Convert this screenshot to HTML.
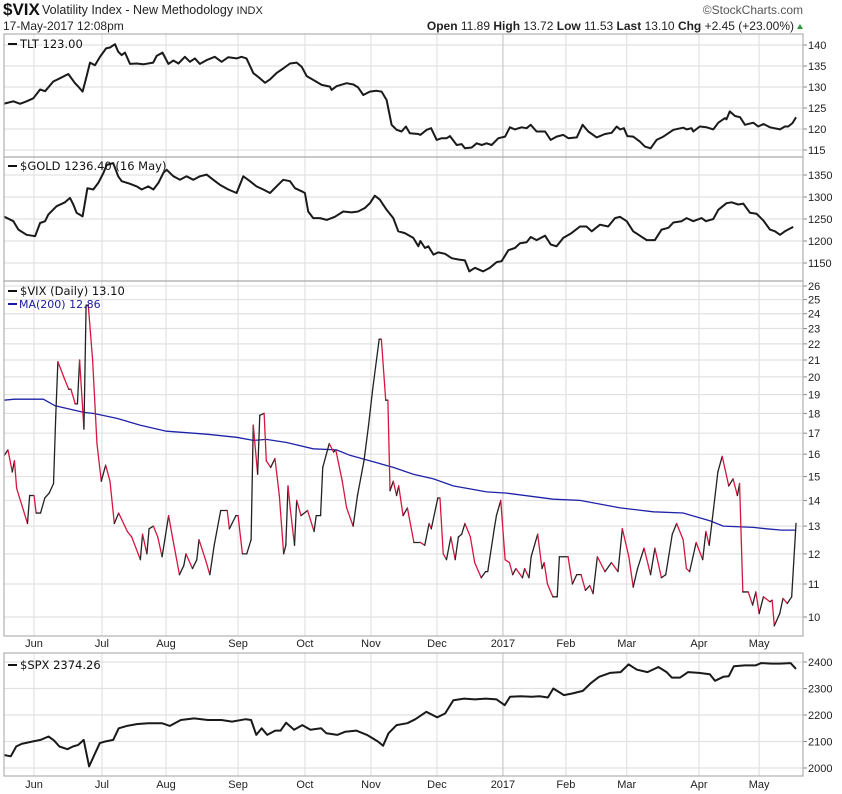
<!DOCTYPE html>
<html><head><meta charset="utf-8">
<style>
html,body{margin:0;padding:0;background:#fff;}
body{width:842px;height:794px;overflow:hidden;position:relative;font-family:"Liberation Sans",sans-serif;}
svg{position:absolute;left:0;top:0;}
.ax{font:11px "Liberation Sans",sans-serif;fill:#222;}
.lg{font:11.5px "DejaVu Sans",sans-serif;fill:#111;}
.mo{font:11px "Liberation Sans",sans-serif;fill:#222;}
</style></head>
<body>
<svg id="chart" width="842" height="794" viewBox="0 0 842 794">
  <g>
    <text x="3" y="15" style="font:bold 17px 'Liberation Sans Narrow','Liberation Sans',sans-serif" fill="#111">$VIX</text>
    <text x="42" y="14" style="font:12.5px 'Liberation Sans Narrow','Liberation Sans',sans-serif" fill="#222">Volatility Index - New Methodology <tspan font-size="11">INDX</tspan></text>
    <text x="803" y="14" text-anchor="end" style="font:12px 'Liberation Sans Narrow','Liberation Sans',sans-serif" fill="#555">©StockCharts.com</text>
    <text x="3" y="30" style="font:12px 'Liberation Sans Narrow','Liberation Sans',sans-serif" fill="#222">17-May-2017 12:08pm</text>
    <text x="794" y="30" text-anchor="end" style="font:12px 'Liberation Sans Narrow','Liberation Sans',sans-serif" fill="#222"><tspan font-weight="bold">Open</tspan> 11.89 <tspan font-weight="bold">High</tspan> 13.72 <tspan font-weight="bold">Low</tspan> 11.53 <tspan font-weight="bold">Last</tspan> 13.10 <tspan font-weight="bold">Chg</tspan> +2.45 (+23.00%)</text>
    <path d="M797 29 L803 29 L800 24 Z" fill="#2a9a3a"/>
  </g>
  <g id="grid"></g>
  <g id="series"></g>
  <g id="axes"></g>
  <g>
    <rect x="8" y="43" width="9" height="2" fill="#111"/>
    <text class="lg" x="20" y="48">TLT 123.00</text>
    <rect x="8" y="165" width="9" height="2" fill="#111"/>
    <text class="lg" x="20" y="170">$GOLD 1236.40 (16 May)</text>
    <rect x="8" y="290" width="9" height="2" fill="#111"/>
    <text class="lg" x="20" y="295">$VIX (Daily) 13.10</text>
    <rect x="8" y="303" width="9" height="2" fill="#1a1aa0"/>
    <text class="lg" x="19" y="308" fill="#1a1aa0" style="fill:#1a1aa0;font-size:11px">MA(200) 12.86</text>
    <rect x="8" y="664" width="9" height="2" fill="#111"/>
    <text class="lg" x="20" y="669">$SPX 2374.26</text>
  </g>
</svg>
<script>
// ---- data (days since 2016-06-01) ----
const monthLabels = ["Jun","Jul","Aug","Sep","Oct","Nov","Dec","2017","Feb","Mar","Apr","May"];
const monthDays = [0,31.3,60.8,94,124.8,155.2,185.6,216,245,273,306.3,334];

const tltTicks = [115,120,125,130,135,140];
const goldTicks = [1150,1200,1250,1300,1350];
const vixTicks = [10,11,12,13,14,15,16,17,18,19,20,21,22,23,24,25,26];
const spxTicks = [2000,2100,2200,2300,2400];

const tltDays = [-14,-9.5,-6.4,-3.4,-0.3,2.8,5.1,8.9,12,15.8,18.9,20.4,22.4,24,25.8,28.1,30.4,33.2,35,37.3,38.8,40.4,41.9,44.2,47.3,50.3,54.9,56.5,59.2,61.9,64.2,66.5,69.5,71.8,74.1,76.4,79.5,83.3,86.4,89.5,93.3,95.6,97.9,101,104,106.4,108.7,111.7,114.8,117.9,121,123.3,125.6,128.6,132.5,136.3,137.1,139.4,144,147.1,149.3,151.7,154.7,157.8,160.1,162.4,164.7,167,169.3,171.3,173.1,177,178,180.9,182.9,185.5,187.8,190.1,191.6,194.7,197,198.5,201.6,203.9,206.2,208.5,210.8,213.9,217,219.2,221.5,224.6,226.9,228.8,231.5,235.4,238,240.7,243.8,246.1,250,252.7,255.3,259.2,263,266.1,268.4,269.9,271.7,273.3,276,279.1,281.4,284,286.8,289.9,294.5,299.1,300.6,302.9,303.7,306.7,309.8,312.9,315.2,318.3,319,320.5,322.9,325.2,327.5,331.3,333.6,336,339,343.6,345.9,347.4,349.4,351];
const tltValues = [126.0,126.6,126.0,126.6,127.3,129.4,129.0,131.3,132.1,133.1,130.9,130.1,128.9,132.1,135.8,135.2,137.2,139.2,139.4,140.2,138.4,137.6,138.2,135.5,135.6,135.4,135.8,137.4,138.2,135.5,136.3,135.6,137.2,136.0,136.8,135.5,136.4,137.2,136.0,137.1,136.8,137.2,136.8,133.3,132.1,131.0,131.8,133.3,134.4,135.6,135.8,134.8,132.6,131.7,130.5,130.1,129.3,130.2,130.9,130.6,129.9,128.1,128.9,129.1,128.9,126.9,121.0,119.8,119.4,120.6,119.0,118.8,118.6,119.8,120.2,117.4,117.8,117.8,118.3,116.2,116.4,115.4,115.6,116.6,116.2,116.6,116.2,117.8,118.2,120.4,119.9,120.4,120.2,121.0,119.4,119.4,117.4,118.2,118.6,117.8,118.0,121.0,119.4,118.0,118.8,119.1,120.6,119.9,120.2,118.3,118.2,117.0,115.8,115.4,117.4,118.2,119.8,120.3,119.9,120.2,119.4,120.6,120.4,119.9,121.5,122.6,122.3,124.2,123.1,122.8,121.0,121.5,120.6,121.2,120.4,119.9,120.6,120.6,121.4,122.8];

const goldDays = [-14,-9.5,-7.2,-3.4,0.5,2.8,5.1,6.6,10.4,14.3,16.6,18.1,19.6,22.4,24.6,27.3,29.6,32,33.5,36.5,38.8,40.4,44.2,47.3,49.6,52.6,55,57.3,59.6,61.1,64.2,67.2,70.3,73.4,76.4,79.5,82.6,85.6,89.5,93.3,96.4,99.5,102.5,105.6,108.7,111.7,114.8,117.9,120.2,123.3,124.8,126.3,128.6,131.7,134.8,138.6,142.4,146.3,149.3,152.4,154.7,157,159.3,162.4,165.5,167.8,170.8,174.7,177,178,180.1,181.6,184,186.2,189.3,192.4,195.5,198.5,200.5,203.1,206.9,210,213.1,215.4,218.5,221.5,223.9,226.9,228.8,231.5,235.4,238,240.7,243.8,247.6,251.5,254.5,256.9,260.7,264.5,267.6,269.9,273,276,279.1,282.2,286,289.1,292.2,294.5,298.3,300.6,303.7,307.5,309.5,312.9,315.2,319,321.3,324.4,326.7,329.8,332.8,335.9,339,341.3,343.6,345.9,349.7];
const goldValues = [1256,1245,1226,1214,1211,1241,1245,1260,1279,1288,1298,1283,1264,1256,1320,1317,1332,1355,1373,1377,1347,1336,1330,1324,1317,1324,1317,1332,1355,1362,1347,1339,1347,1339,1347,1351,1339,1328,1317,1309,1347,1336,1324,1317,1309,1324,1339,1336,1320,1313,1309,1267,1252,1252,1248,1255,1267,1265,1267,1275,1286,1303,1294,1271,1252,1222,1218,1207,1188,1200,1184,1188,1169,1174,1171,1161,1158,1156,1131,1139,1131,1139,1152,1154,1179,1184,1195,1197,1209,1202,1212,1192,1188,1207,1218,1233,1233,1222,1237,1233,1252,1255,1245,1222,1212,1202,1202,1226,1230,1242,1245,1252,1245,1252,1245,1250,1271,1286,1288,1283,1285,1264,1262,1247,1226,1222,1214,1222,1232];

const vixDays = [-14,-12,-10,-9,-8,-3,-2,0,1,3,5,7,9,10,11,14,16,17,19,20,21,23,24,25,27,29,31,33,35,37,39,43,45,49,50,52,53,55,57,59,62,64,67,69,70,73,75,76,79,81,83,86,89,90,93,94,96,98,100,101,103,104,106,107,109,111,113,115,116,117,118,120,121,123,126,129,130,132,133,136,138,139,142,144,147,149,152,154,156,159,160,162,163,164,165.5,167,168,170,172,175,178,180,182,183,186,187,188.5,190,192,194,195.5,197,198.5,201,203,206,208,209,212,213,215,217,219,220.5,222,225,226,228,229,232,234,235,236.5,239,241,242,244,246,248,250,252,254,256,257.5,259.5,263,266,267,269,271,274,276,278,281,284,286,289,291,294,296,299,300.5,302,305,308,309.5,311,312.5,315,317,320,322,324,325,326.5,329,331,332.5,334,336,339,340,341,343.5,345,347,349,351];
const vixValues = [15.9,16.2,15.2,15.7,14.5,13.1,14.2,14.2,13.5,13.5,14.1,14.3,14.7,17.8,20.9,19.9,19.3,19.3,18.5,18.5,21.0,17.2,24.6,24.6,21.0,16.5,14.8,15.5,14.8,13.1,13.5,12.8,12.6,11.8,12.7,12.0,12.9,13.0,12.6,11.9,13.4,12.5,11.3,11.6,12.0,11.5,11.8,12.5,11.8,11.3,12.3,13.6,13.6,12.9,13.4,13.4,12.0,12.0,12.5,17.4,15.1,17.9,18.0,15.7,15.4,15.8,14.2,12.0,12.3,14.6,13.7,12.3,14.0,13.4,13.6,12.8,13.4,13.4,15.4,16.5,16.1,16.2,14.8,13.7,13.0,14.2,15.7,17.3,19.3,22.3,22.3,18.7,18.7,14.4,14.8,14.2,14.6,13.4,13.7,12.4,12.4,12.3,13.1,12.9,14.1,14.1,12.0,11.8,12.6,11.8,12.6,12.7,13.1,12.6,11.7,11.2,11.4,11.4,12.9,13.4,14.0,11.8,11.7,11.3,11.5,11.2,11.5,11.2,11.9,12.7,11.5,11.7,11.0,10.6,10.6,11.9,11.9,11.9,11.0,11.3,11.3,10.8,10.95,10.7,11.9,11.4,11.7,11.6,11.4,12.9,11.9,10.9,11.5,12.2,11.3,12.2,11.2,11.3,12.7,13.1,12.5,11.5,11.4,12.4,11.8,12.8,12.3,13.3,15.2,15.9,14.6,14.9,14.2,14.7,10.75,10.75,10.35,10.75,10.1,10.6,10.45,10.5,9.75,10.1,10.55,10.4,10.6,13.1];

const maDays = [-14,-9,4.3,9.7,23,27.3,38,48.8,61,79.5,93.3,101,107,116.4,128.6,139.4,145.5,156.3,165.5,174.7,184,193.1,208.5,217.7,239.2,251.5,270,285.3,299,311.3,317.5,331.3,337.4,344.3,351];
const maValues = [18.7,18.75,18.75,18.4,18.05,18.0,17.75,17.4,17.1,16.95,16.8,16.65,16.7,16.55,16.25,16.2,15.95,15.65,15.4,15.1,14.9,14.6,14.35,14.3,14.05,14.0,13.7,13.55,13.5,13.2,13.0,12.95,12.9,12.85,12.85];

const spxDays = [-14.4,-10.7,-8.2,-5.7,-0.7,3,6.7,9.2,11.7,15.4,17.9,20.4,22.9,25.4,27.8,30.3,32.8,36.5,39,42.8,47.7,52.7,58.9,62.6,67.6,73.8,80,86.3,91.2,97.5,100,102.4,104.9,107.4,111.1,113.6,116.1,119.8,123.6,127.3,132.3,134.7,139.7,143.4,148.4,153.4,158.4,160.8,163.3,167,172,175.7,180.7,185.7,189.4,193.2,198.1,203.1,208.1,213.1,216.8,219.3,224.2,229.2,232.9,236.7,239.2,244.1,247.9,252.8,256.6,260.3,265.3,270.2,273.9,277.7,282.6,287.6,291.4,293.8,297.6,301.3,306.3,311.3,313.7,317.5,320,322.4,327.4,332.4,334.9,339.8,343.6,348.5,351];
const spxValues = [2050,2044,2081,2091,2100,2106,2119,2104,2081,2071,2081,2087,2106,2006,2050,2094,2100,2106,2150,2159,2166,2169,2169,2159,2181,2187,2181,2181,2175,2184,2181,2125,2150,2125,2141,2141,2171,2144,2162,2144,2150,2131,2125,2137,2141,2125,2100,2084,2131,2162,2169,2184,2212,2191,2206,2256,2262,2259,2262,2259,2237,2269,2271,2269,2271,2266,2300,2275,2281,2291,2321,2344,2359,2362,2391,2371,2362,2381,2362,2341,2341,2362,2359,2354,2329,2344,2346,2384,2387,2387,2396,2394,2394,2396,2374];

// ---- layout ----
const L = 4, R = 803;
const panels = {
  tlt:  {top:34,  bot:157},
  gold: {top:157, bot:281},
  vix:  {top:281, bot:636},
  spx:  {top:653, bot:776}
};
const NS = "http://www.w3.org/2000/svg";
function xS(d){ return 34 + d*2.171; }
function yTlt(v){ return 45 + (140 - v)*4.2; }
function yGold(v){ return 175 + (1350 - v)*0.44; }
function yVix(v){ return 617 - Math.log(v/10)/Math.log(2.6)*331; }
function ySpx(v){ return 662 + (2400 - v)*0.265; }
function mk(tag, attrs, parent){
  const e = document.createElementNS(NS, tag);
  for (const k in attrs) e.setAttribute(k, attrs[k]);
  parent.appendChild(e);
  return e;
}
const svg = document.getElementById('chart');
const grid = document.getElementById('grid');
const series = document.getElementById('series');
const axes = document.getElementById('axes');
const defs = mk('defs', {}, svg);
for (const k in panels){
  const cp = mk('clipPath', {id:'clip-'+k}, defs);
  mk('rect', {x:L, y:panels[k].top+1, width:R-L, height:panels[k].bot-panels[k].top-1}, cp);
}

// horizontal gridlines + tick labels
function hgrid(ticks, yf, p, name){
  ticks.forEach(t=>{
    const y = yf(t);
    const ln = mk('line', {x1:L, x2:R, y1:y, y2:y, stroke:'#e2e2e2', 'stroke-width':1.2}, grid);
    
    
    const tk = mk('line', {x1:R, x2:R+4, y1:y, y2:y, stroke:'#888', 'stroke-width':1}, axes);
    
    
    const tx = mk('text', {x:R+5, y:y+4, class:'ax'}, axes);
    tx.textContent = t;
    
    
  });
}
hgrid(tltTicks, yTlt, panels.tlt, 'tlt');
hgrid(goldTicks, yGold, panels.gold, 'gold');
hgrid(vixTicks, yVix, panels.vix, 'vix');
hgrid(spxTicks, ySpx, panels.spx, 'spx');

// vertical month gridlines and labels
monthDays.forEach((d,i)=>{
  const x = xS(d);
  const is17 = monthLabels[i]==='2017';
  [[34,636],[653,776]].forEach(r=>{
    const ln = mk('line', {x1:x, x2:x, y1:r[0], y2:r[1], stroke: is17?'#c8c8c8':'#e2e2e2', 'stroke-width':1.2}, grid);
    
    
  });
  [647, 788].forEach(y=>{
    const t = mk('text', {x:x, y:y, 'text-anchor':'middle', class:'mo', 'font-weight': is17?'bold':'normal', 'font-size': is17?'12':'11'}, axes);
    t.textContent = monthLabels[i];
    
    
  });
});

// panel borders
for (const k in panels){
  const p = panels[k];
  const r = mk('rect', {x:L, y:p.top, width:R-L, height:p.bot-p.top, fill:'none', stroke:'#b0b0b0', 'stroke-width':1.2}, axes);
  
  
}

// line series
function linePath(days, vals, yf){
  return days.map((d,i)=>(i?'L':'M')+xS(d).toFixed(1)+' '+yf(vals[i]).toFixed(1)).join(' ');
}
const tl = mk('path', {d:linePath(tltDays, tltValues, yTlt), fill:'none', stroke:'#1a1a1a', 'stroke-width':2, 'stroke-linejoin':'round', 'clip-path':'url(#clip-tlt)'}, series);


const gl = mk('path', {d:linePath(goldDays, goldValues, yGold), fill:'none', stroke:'#1a1a1a', 'stroke-width':2, 'stroke-linejoin':'round', 'clip-path':'url(#clip-gold)'}, series);


const ml = mk('path', {d:linePath(maDays, maValues, yVix), fill:'none', stroke:'#1e22a8', 'stroke-width':1.3, 'clip-path':'url(#clip-vix)'}, series);


const vg = mk('g', {'clip-path':'url(#clip-vix)'}, series);


for (let i=1;i<vixDays.length;i++){
  const up = vixValues[i] >= vixValues[i-1];
  const seg = mk('line', {x1:xS(vixDays[i-1]), y1:yVix(vixValues[i-1]), x2:xS(vixDays[i]), y2:yVix(vixValues[i]), stroke: up?'#222':'#d6163f', 'stroke-width':1.3, 'stroke-linecap':'round'}, vg);
  
  
}
const sl = mk('path', {d:linePath(spxDays, spxValues, ySpx), fill:'none', stroke:'#1a1a1a', 'stroke-width':2, 'stroke-linejoin':'round', 'clip-path':'url(#clip-spx)'}, series);


</script>
</body></html>
